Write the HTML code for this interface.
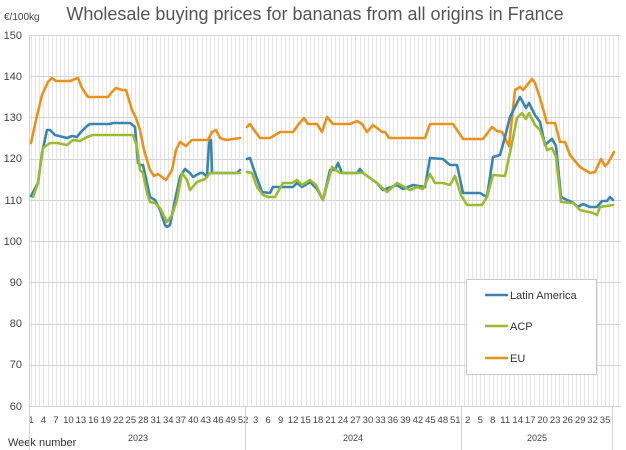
<!DOCTYPE html>
<html><head><meta charset="utf-8"><style>
body{margin:0;background:#fff;}
svg{display:block;font-family:"Liberation Sans",sans-serif;}
</style></head><body>
<svg id="s" width="626" height="450" xmlns="http://www.w3.org/2000/svg">
<rect width="626" height="450" fill="#fff"/>
<g id="grid"></g>
<text x="315" y="20" text-anchor="middle" font-size="18" fill="#555">Wholesale buying prices for bananas from all origins in France</text>
<text x="4" y="20" font-size="10" fill="#444">€/100kg</text>
<g font-size="11" fill="#444" text-anchor="end">
<text x="22" y="39">150</text><text x="22" y="80">140</text><text x="22" y="121">130</text><text x="22" y="162">120</text><text x="22" y="204">110</text><text x="22" y="245">100</text><text x="22" y="286">90</text><text x="22" y="327">80</text><text x="22" y="368">70</text><text x="22" y="410">60</text>
</g>
<g id="xl" font-size="9.5" fill="#444" text-anchor="middle"></g>
<g font-size="9" fill="#444" text-anchor="middle">
<text x="138" y="441">2023</text><text x="353" y="441">2024</text><text x="537" y="441">2025</text>
</g>
<text x="8" y="446" font-size="11" fill="#333">Week number</text>
<g stroke="#d0d0d0" stroke-width="1">
<line x1="29.5" y1="406" x2="29.5" y2="450"/><line x1="245.5" y1="406" x2="245.5" y2="450"/><line x1="461.5" y1="406" x2="461.5" y2="450"/><line x1="612.5" y1="406" x2="612.5" y2="450"/>
</g>
<g fill="none" stroke-width="2.6" stroke-linejoin="round" stroke-linecap="round">
<polyline stroke="#e8921b" points="31,143 36,120 42,95 48,82 52,78 56,81 70,81 75,79 78,78 82,88 88,97 108,97 112,92 116,88 122,90 126,90 132,110 136,118 140,130 144,150 150,170 154,176 158,174 166,180 172,170 176,150 180,142 186,146 192,140 208,140 212,132 216,130 220,138 226,140 240,138"/>
<polyline stroke="#e8921b" points="247,127 250,124 254,130 260,138 270,138 280,132 293,132 298,125 304,118 308,124 317,124 322,132 327,117 333,124 350,124 357,121 362,124 367,132 373,125 377,128 382,132 385,132 389,138 425,138 430,124 453,124 463,139 483,139 492,127 497,131 502,132 509,146 515,90 520,87 523,90 532,79 535,83 540,98 547,123 555,123 560,142 565,142 570,155 580,167 590,173 595,172 601,159 605,166 608,163 614,152"/>
<polyline stroke="#3a84b0" points="31,196 38,183 42,153 47,130 50,130 55,135 67,138 72,136 77,137 80,133 87,126 90,124 110,124 113,123 130,123 135,127 138,163 140,165 143,165 147,183 150,197 155,200 160,210 165,225 167,227 170,225 175,200 180,177 185,169 190,173 193,177 200,173 203,173 207,177 209,143 211,140 212,173 217,173 237,173 240,170"/>
<polyline stroke="#3a84b0" points="247,159 250,158 255,173 262,192 270,193 273,187 293,187 297,183 302,187 310,182 317,189 323,200 330,170 335,170 338,163 342,173 357,173 360,169 363,173 377,183 383,190 397,185 403,189 413,185 425,187 430,158 443,159 450,165 457,165 463,193 480,193 487,197 493,157 500,155 505,137 510,117 520,97 526,108 529,103 535,115 540,122 545,145 552,139 556,146 561,197 567,200 572,202 578,207 583,204 590,207 597,207 602,201 607,201 610,197 613,200"/>
<polyline stroke="#9bbb2e" points="33,197 38,183 43,148 50,143 57,143 67,145 73,140 80,141 87,137 93,135 133,135 137,147 140,170 143,173 147,193 150,202 155,203 160,208 167,222 172,215 177,200 182,173 187,180 190,190 197,182 205,179 210,173 240,173"/>
<polyline stroke="#9bbb2e" points="247,172 252,173 257,187 263,195 268,197 275,197 283,183 292,183 297,180 302,185 310,180 316,185 323,200 332,167 340,173 363,173 377,183 387,192 397,183 410,190 417,187 423,189 430,174 435,183 443,183 450,185 455,176 461,195 467,205 482,205 487,197 493,175 505,176 512,143 517,118 522,113 526,119 529,113 535,125 540,130 547,150 552,148 556,157 561,202 573,203 580,210 593,213 597,215 600,207 613,205"/>
</g>
<rect x="466.5" y="279.5" width="130" height="95" fill="#fff" stroke="#c8c8c8"/>
<g stroke-width="2.6">
<line x1="485" y1="295" x2="508" y2="295" stroke="#3a84b0"/>
<line x1="485" y1="326" x2="508" y2="326" stroke="#9bbb2e"/>
<line x1="485" y1="358" x2="508" y2="358" stroke="#e8921b"/>
</g>
<g font-size="11" fill="#333">
<text x="510" y="299">Latin America</text><text x="510" y="330">ACP</text><text x="510" y="362">EU</text>
</g>
</svg>
<script>
var ns="http://www.w3.org/2000/svg",g=document.getElementById("grid"),xl=document.getElementById("xl");
function L(x1,y1,x2,y2,c){var l=document.createElementNS(ns,"line");l.setAttribute("x1",x1);l.setAttribute("y1",y1);l.setAttribute("x2",x2);l.setAttribute("y2",y2);l.setAttribute("stroke",c);l.setAttribute("stroke-width","1");g.appendChild(l);}
for(var i=0;i<142;i++){var x=Math.round(31+i*4.16)+0.5;if(x<621)L(x,35,x,406,"#e4e4e4");}
for(var v=0;v<=9;v++){var y=Math.round(35+v*41.22)+0.5;L(29,y,621,y,"#d4d4d4");}
L(29.5,35,29.5,406,"#d0d0d0");
function T(x,t){var e=document.createElementNS(ns,"text");e.setAttribute("x",x);e.setAttribute("y",423);e.textContent=t;xl.appendChild(e);}
for(var w=1;w<=52;w+=3)T(31+(w-1)*4.16,w);
for(var w=3;w<=51;w+=3)T(31+(51+w)*4.16,w);
for(var w=2;w<=35;w+=3)T(31+(103+w)*4.16,w);
</script>
</body></html>
